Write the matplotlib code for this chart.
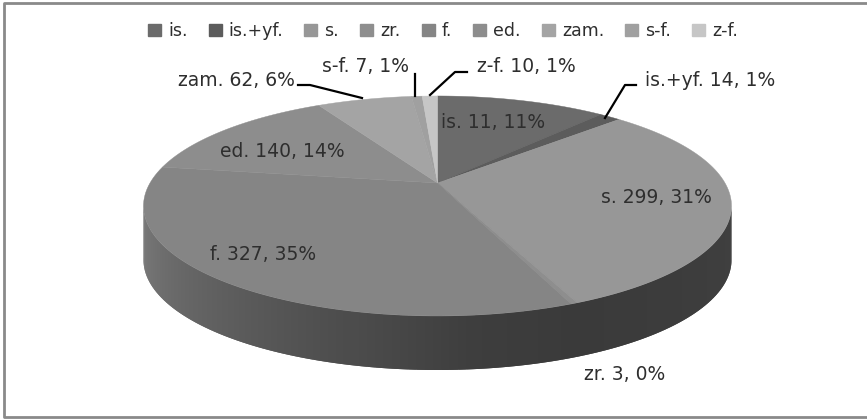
import numpy as np
import matplotlib
matplotlib.use('Agg')
from matplotlib import pyplot as plt
from matplotlib.patches import Patch

names = ['is.', 'is.+yf.', 's.', 'zr.', 'f.', 'ed.', 'zam.', 's-f.', 'z-f.']
# slice sizes (the first label reads 11 but the slice is drawn as about 11%)
sizes = [111, 14, 299, 3, 327, 140, 62, 7, 10]
labels = ['is. 11, 11%', 'is.+yf. 14, 1%', 's. 299, 31%', 'zr. 3, 0%', 'f. 327, 35%',
          'ed. 140, 14%', 'zam. 62, 6%', 's-f. 7, 1%', 'z-f. 10, 1%']
colors = ['#6b6b6b', '#5c5c5c', '#979797', '#8e8e8e', '#858585',
          '#8d8d8d', '#a4a4a4', '#a0a0a0', '#c6c6c6']
label_pos = [(493, 122), (710, 80), (656, 197), (625, 374), (263, 254),
             (282, 151), (236, 80), (365, 66), (526, 66)]
leaders = [None, [(636, 85), (625, 85), (605, 118)], None, None, None, None,
           [(298, 85), (310, 85), (362, 98)], [(415, 74), (415, 96)],
           [(467, 72), (455, 72), (430, 95)]]

# fake 3d pie: circle seen in perspective
cx, cy = 437.5, 183
a, b, k = 105.2, 287.5, 0.209
depth = 54


def project(theta):
    u, v = np.sin(theta), np.cos(theta)
    s = 1 + k * v
    return cx + b * u / s, cy - a * v / s


plt.rcParams['font.family'] = ['DejaVu Sans']
fig = plt.figure(figsize=(8.67, 4.19), dpi=100)
ax = fig.add_axes([0, 0, 1, 1])
ax.set_xlim(0, 867)
ax.set_ylim(419, 0)
ax.axis('off')

# frame, open on the right
ax.plot([867, 4, 4, 867], [3, 3, 417, 417], color='#8a8a8a', lw=2)

# side wall, front half only; each facet overlaps the next so no seams show
right_end = np.arccos(-k)
left_end = 2 * np.pi - right_end
edges = np.linspace(right_end, left_end, 120)
step = edges[1] - edges[0]
for t0 in edges[:-1]:
    t = np.linspace(t0, t0 + 2 * step, 4)
    xs, ys = project(t)
    mid = np.degrees(t0 + step / 2)
    g = np.interp(mid, [100, 157, 175, 258], [0x40, 0x3a, 0x3e, 0x7c]) / 255
    ax.fill(np.r_[xs, xs[::-1]], np.r_[ys, ys[::-1] + depth], color=(g, g, g), lw=0)

# top face
frac = np.cumsum([0] + sizes) / sum(sizes) * 2 * np.pi
for i in range(len(sizes)):
    t = np.linspace(frac[i], frac[i + 1], 80)
    xs, ys = project(t)
    ax.fill(np.r_[cx, xs], np.r_[cy, ys], color=colors[i], lw=0.3)

for i, txt in enumerate(labels):
    ax.text(label_pos[i][0], label_pos[i][1], txt, ha='center', va='center',
            fontsize=13.5, color='#2e2e2e')
    if leaders[i]:
        pts = np.array(leaders[i])
        ax.plot(pts[:, 0], pts[:, 1], color='black', lw=1.6)

handles = [Patch(color=c, label=n) for c, n in zip(colors, names)]
ax.legend(handles=handles, ncol=9, loc='center', bbox_to_anchor=(443 / 867, 1 - 31 / 419),
          frameon=False, fontsize=12.5, labelcolor='#2e2e2e', handlelength=0.75,
          handleheight=0.75, handletextpad=0.4, columnspacing=1.22)

fig.savefig('out.png', dpi=100)
